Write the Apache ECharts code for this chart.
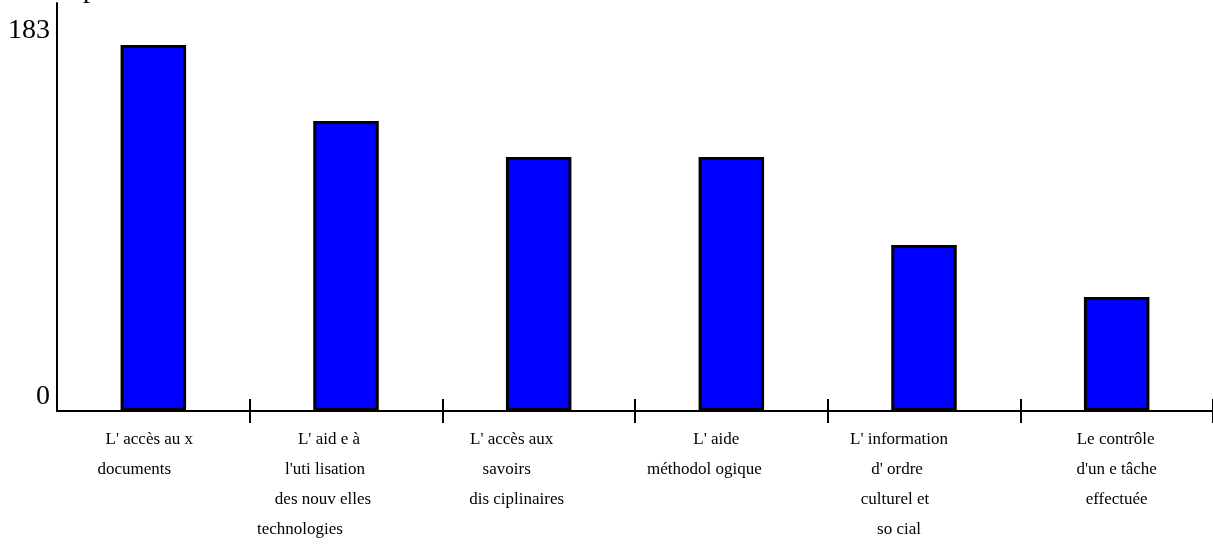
<!DOCTYPE html>
<html>
<head>
<meta charset="utf-8">
<script src="https://cdn.jsdelivr.net/npm/echarts@6/dist/echarts.min.js"></script>
<style>
  html, body { margin: 0; padding: 0; background: #fff; }
  #chart { width: 1213px; height: 557px; }
</style>
</head>
<body>
<div id="chart"></div>
<script>
// Categories (multi-line labels) and number of answers per category
const categories = [
  "L' accès au x\ndocuments",
  "L' aid e à\nl'uti lisation\ndes nouv elles\ntechnologies",
  "L' accès aux\nsavoirs\ndis ciplinaires",
  "L' aide\nméthodol ogique",
  "L' information\nd' ordre\nculturel et\nso cial",
  "Le contrôle\nd'un e tâche\neffectuée"
];
const values = [183, 145, 127, 127, 83, 57];
const yTickLabels = [0, 183];

// Horizontal nudge (px) of each label line relative to its category centre
const lineShift = [
  [-4, -19],
  [-17, -21, -23, -46],
  [-27, -32, -22],
  [-15, -27],
  [-25, -27, -29, -25],
  [-1, 0, 0]
];

const serif = "'Liberation Serif', 'DejaVu Serif', serif";

// One rich style per label line; padding on one side moves the centred text
const rich = {};
lineShift.forEach((shifts, c) => {
  shifts.forEach((s, l) => {
    rich['c' + c + 'l' + l] = {
      fontFamily: serif, fontSize: 17, lineHeight: 30, color: '#000',
      padding: s < 0 ? [0, -2 * s, 0, 0] : [0, 0, 0, 2 * s]
    };
  });
});

const chart = echarts.init(document.getElementById('chart'), null, { renderer: 'canvas' });

chart.setOption({
  animation: false,
  backgroundColor: '#ffffff',
  grid: { left: 57, right: 0, top: 3, bottom: 146, containLabel: false },
  graphic: [{
    type: 'text',
    left: 83,
    top: -24,
    style: { text: 'p', font: '28px ' + serif, fill: '#000' }
  }],
  xAxis: [{
    type: 'category',
    data: categories,
    axisLine: { show: true, lineStyle: { color: '#000', width: 2 } },
    axisTick: {
      show: true, length: 12,
      interval: (i) => i > 0,
      lineStyle: { color: '#000', width: 2 }
    },
    axisLabel: {
      interval: 0, color: '#000', fontFamily: serif,
      fontSize: 17, lineHeight: 30, margin: 14,
      formatter: (value, index) => value.split('\n')
        .map((line, l) => '{c' + index + 'l' + l + '|' + line + '}')
        .join('\n'),
      rich: rich
    }
  }, {
    type: 'category',
    data: categories,
    position: 'bottom',
    axisLine: { show: false },
    axisTick: {
      show: true, inside: true, length: 12,
      interval: (i) => i > 0,
      lineStyle: { color: '#000', width: 2 }
    },
    axisLabel: { show: false }
  }],
  yAxis: {
    type: 'value',
    min: 0,
    max: 204,
    axisLine: { show: true, lineStyle: { color: '#000', width: 2 } },
    axisTick: { show: false },
    splitLine: { show: false },
    axisLabel: {
      customValues: yTickLabels,
      color: '#000', fontFamily: serif, fontSize: 28,
      verticalAlign: 'bottom', margin: 7
    }
  },
  series: [{
    type: 'bar',
    data: values,
    barCategoryGap: '66%',
    itemStyle: { color: '#0000ff', borderColor: '#000', borderWidth: 3 }
  }]
});
</script>
</body>
</html>
